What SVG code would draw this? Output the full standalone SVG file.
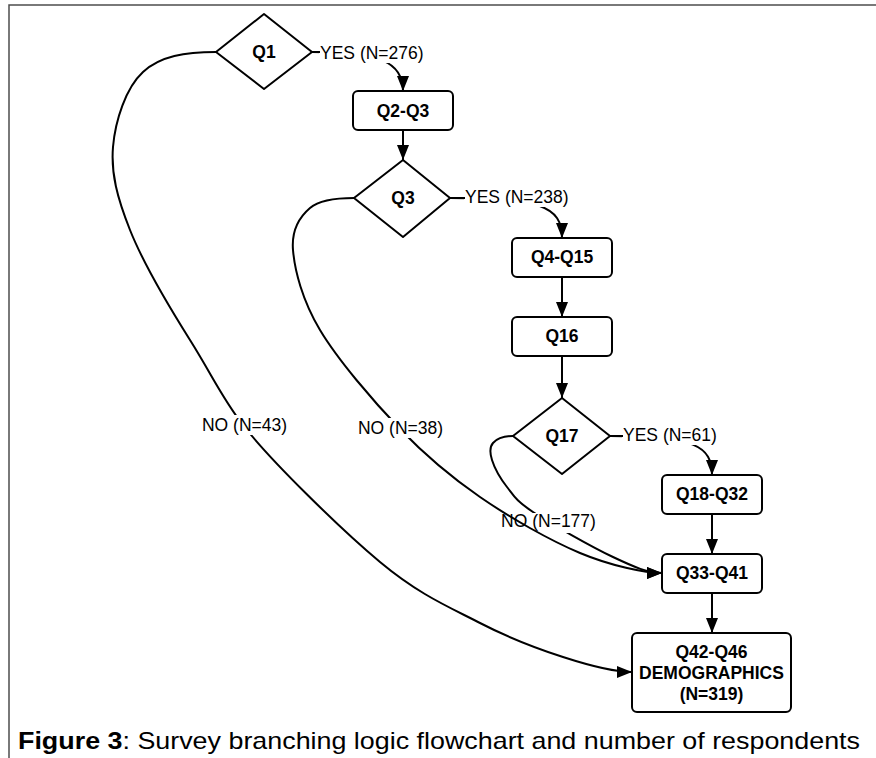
<svg xmlns="http://www.w3.org/2000/svg" width="876" height="758" viewBox="0 0 876 758">
<defs>
<style>
.node{fill:#fff;stroke:#000;stroke-width:2;stroke-linejoin:round}
.nt{font-family:"Liberation Sans",Arial,sans-serif;font-weight:bold;font-size:17.5px;text-anchor:middle;fill:#000}
.lbl{font-family:"Liberation Sans",Arial,sans-serif;font-size:17.5px;fill:#000}
.edge{fill:none;stroke:#000;stroke-width:2}
.bg{fill:#fff}
</style>
<marker id="ah" markerUnits="userSpaceOnUse" markerWidth="15" markerHeight="12" refX="15" refY="6" orient="auto">
<path d="M0,0 L15,6 L0,12 z" fill="#000"/>
</marker>
</defs>
<rect width="876" height="758" fill="#fff"/>
<path d="M9,758 V5 H876" fill="none" stroke="#4d4d4d" stroke-width="1.5"/>

<g id="connectors">
<path class="edge" marker-end="url(#ah)" d="M312,52 C380,52 403,62 403,91"/>
<path class="edge" marker-end="url(#ah)" d="M403,130 V160"/>
<path class="edge" marker-end="url(#ah)" d="M450,198 C540,198 562,206 562,238"/>
<path class="edge" marker-end="url(#ah)" d="M562,277 V317"/>
<path class="edge" marker-end="url(#ah)" d="M562,356 V398"/>
<path class="edge" marker-end="url(#ah)" d="M610,436 C695,436 712,446 712,475"/>
<path class="edge" marker-end="url(#ah)" d="M712,514 V554"/>
<path class="edge" marker-end="url(#ah)" d="M712,593 V633"/>
<path class="edge" marker-end="url(#ah)" d="M216,52 C185,52 160.2,56.2 143,72 C125.8,87.8 115.2,120.7 113,147 C110.8,173.3 117.2,197.8 130,230 C142.8,262.2 168,305 190,340 C212,375 222,398 243,425 C270,460 340.5,529 380,562 C419.5,595 449.5,607.2 480,623 C510.5,638.8 537.7,648.8 563,657 C588.3,665.2 615,672 632,672"/>
<rect class="bg" x="200" y="415" width="89" height="20"/>
<text class="lbl" x="244.5" y="431" text-anchor="middle">NO (N=43)</text>
<path class="edge" marker-end="url(#ah)" d="M513,436 C503,436 496.5,439 493,443 C489.5,447 489.7,452.7 492,460 C494.3,467.3 500.2,478.3 507,487 C513.8,495.7 515.3,500.3 533,512 C550.7,523.7 591.5,546.8 613,557 C634.5,567.2 648,573 662,573"/>
<rect class="bg" x="499" y="513" width="100" height="20"/>
<text class="lbl" x="548.5" y="527" text-anchor="middle">NO (N=177)</text>
<path class="edge" marker-end="url(#ah)" d="M354,198 C338,198 320.2,199.3 310,208 C299.8,216.7 291.3,229.7 293,250 C294.7,270.3 302.2,300.2 320,330 C337.8,359.8 373.3,401.2 400,429 C426.7,456.8 450,476.3 480,497 C510,517.7 549.7,540.3 580,553 C610.3,565.7 645,573 662,573"/>
<rect class="bg" x="356" y="418" width="89" height="20"/>
<text class="lbl" x="400.5" y="434" text-anchor="middle">NO (N=38)</text>
<rect class="bg" x="319" y="43" width="109" height="20"/>
<text class="lbl" x="320" y="59">YES (N=276)</text>
<rect class="bg" x="464" y="187" width="109" height="20"/>
<text class="lbl" x="465" y="203">YES (N=238)</text>
<rect class="bg" x="622" y="425" width="99" height="20"/>
<text class="lbl" x="623" y="441">YES (N=61)</text>
<path class="edge" d="M312,52 H320 M450,198 H465 M610,436 H623"/>
</g>

<g id="q1">
<path class="node" d="M264,14 L312,52 L264,89 L216,52 Z"/>
<text class="nt" x="264" y="58">Q1</text>
</g>
<g id="q2-q3">
<rect class="node" x="353" y="91" width="100" height="39" rx="5"/>
<text class="nt" x="403" y="117">Q2-Q3</text>
</g>
<g id="q3">
<path class="node" d="M403,160 L450,198 L403,237 L354,198 Z"/>
<text class="nt" x="403" y="204">Q3</text>
</g>
<g id="q4-q15">
<rect class="node" x="512" y="238" width="100" height="39" rx="5"/>
<text class="nt" x="562" y="263">Q4-Q15</text>
</g>
<g id="q16">
<rect class="node" x="512" y="317" width="100" height="39" rx="5"/>
<text class="nt" x="562" y="342">Q16</text>
</g>
<g id="q17">
<path class="node" d="M562,398 L610,436 L562,474 L513,436 Z"/>
<text class="nt" x="562" y="442">Q17</text>
</g>
<g id="q18-q32">
<rect class="node" x="662" y="475" width="100" height="39" rx="5"/>
<text class="nt" x="712" y="500">Q18-Q32</text>
</g>
<g id="q33-q41">
<rect class="node" x="662" y="554" width="100" height="39" rx="5"/>
<text class="nt" x="712" y="579">Q33-Q41</text>
</g>
<g id="q42-q46">
<rect class="node" x="632" y="633" width="159" height="79" rx="5"/>
<text class="nt" x="711.5" y="658">Q42-Q46</text>
<text class="nt" x="711.5" y="679">DEMOGRAPHICS</text>
<text class="nt" x="711.5" y="700">(N=319)</text>
</g>

<text x="18" y="749" font-family="'Liberation Sans',Arial,sans-serif" font-size="24" textLength="842" lengthAdjust="spacingAndGlyphs" fill="#000"><tspan font-weight="bold">Figure 3</tspan>: Survey branching logic flowchart and number of respondents</text>
</svg>
